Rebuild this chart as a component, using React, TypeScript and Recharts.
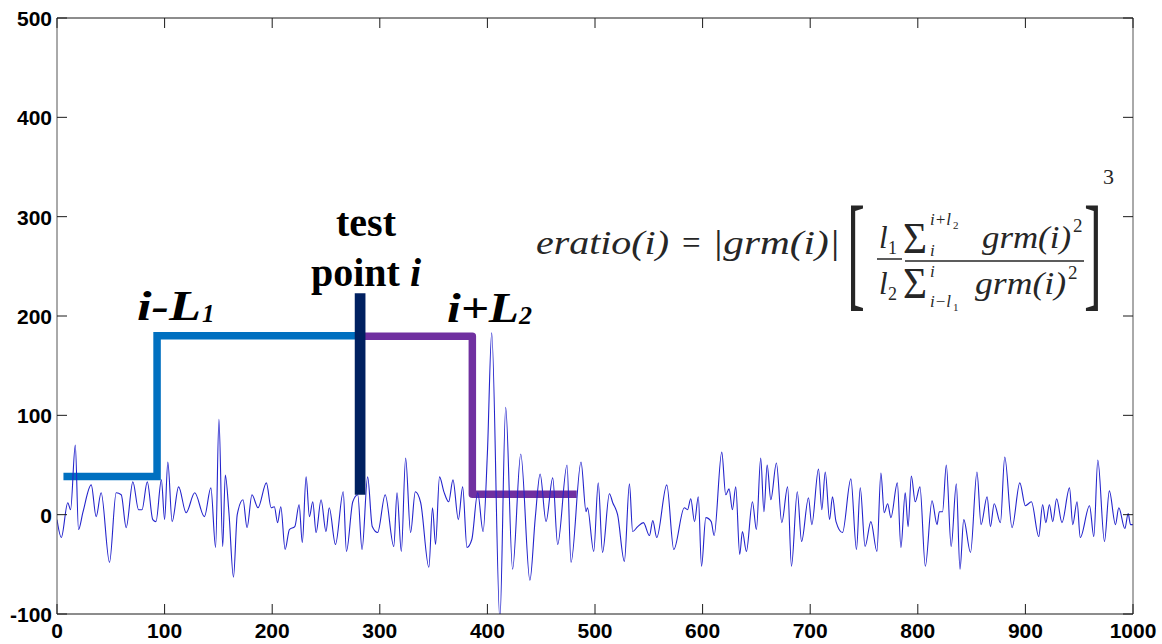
import { ComposedChart, Line, XAxis, YAxis, Customized } from "recharts";

// signal, peak by peak
const signalA: [number, number][] = [
    [0, -5], [4, -23], [10, 12], [12.6, 5], [17, 70], [20, -15], [24, 2], [31.8, 30], [36.4, -2], [41, 22],
    [48.8, -48], [55, 22], [59.7, 20], [64.3, -13], [70.5, 33], [75.8, 5], [79, 5], [83.9, 33], [89, -5], [92, -7],
    [97, 35], [100, -5], [103, 53], [107, -7], [113, 28], [120, 2], [128, 22], [137, -2], [143, 27], [147.4, -33],
    [150.5, 96], [154, -32], [156.4, 40], [159.8, 2], [164, -63], [167.5, 0], [172.9, 15], [176.6, -13], [181.2, 20],
    [186.8, 7], [194.6, 32], [199, 7]
];
const signalB: [number, number][] = [
    [202, 8], [205, -8], [208, 8], [212, -35], [216, -15], [221, -12], [225, 10], [228, -28], [231.5, 38], [234.6, -2],
    [237.7, 13], [240.8, -18], [245.4, 15], [250, -17], [253, 7], [258.8, -30], [266, 23], [269, -37], [274.9, 13],
    [279.5, 20], [283.5, -35], [288.7, 38], [293, -12], [298, -18], [305, 20], [313, -32], [316, 22], [320, -37],
    [324, 57], [328.6, -18], [333, 23], [338, 12], [345.6, -53], [349, 7], [351.8, -30], [355.5, 38], [359.6, 23],
    [364, 13], [368, 35], [373, -5], [377, 28], [381, -33], [385.5, -25], [391, 22], [396, -17], [400, 62], [404, 183]
];
const signalC: [number, number][] = [
    [411.6, -106], [417, 108], [423.4, -55], [431, 61], [439.5, -66], [444.5, -3], [449, 41], [454.5, -7], [460.7, 37],
    [465.3, -30], [474, 50], [477.7, -48], [487, 53], [491.7, 3], [493, 7], [498.8, -37], [503, 32], [507, -38],
    [513.4, 21], [516.5, 12], [521, 0], [527.3, -47], [532, 31], [535, -17], [539.7, -12], [545, -8], [550.6, -21],
    [553.7, -6], [557.4, -23], [566.7, 30], [573.2, -35], [583, 7], [586, 5], [589, 16], [592.5, -7], [596, 18],
    [599, -52], [603, -3]
];
const signalD: [number, number][] = [
    [608, -7], [610.7, -21], [617.8, 63], [621.5, 20], [624.6, 26], [627.7, 5], [630.8, 28], [634.5, -40], [637, -17],
    [640.7, -37], [646.3, 13], [650, -15], [654, 57], [657, 3], [660, 50], [663.4, 15], [668.6, 52], [673.6, -8],
    [679, 28], [682.6, -52], [688, 23], [692, -27], [698.4, 17], [701.5, -10], [707.7, 46], [710.8, 5], [714, 43],
    [718, -5], [720.7, 18], [724, -7], [730, -18], [737.8, 36], [743, -35], [746.5, 27], [751, -32], [756.4, -7],
    [762, -37], [765.7, 42], [768.8, 2], [772, 11], [775, -3], [781, 32], [784.3, -33], [788.3, 22], [791, -12],
    [794, 39], [797.6, 13], [802, 28]
];
const signalE: [number, number][] = [
    [807, -52], [813.2, 14], [817.9, -10], [820, 3], [823, 3], [826.5, 50], [831, -32], [835.8, 31], [839.2, -55],
    [842.7, -5], [849, -38], [855, 43], [858.8, -10], [864.4, 18], [867.5, -12], [871, 11], [876.8, -8], [880.8, 58],
    [887.6, -13], [894.8, 32], [900, 9], [905.6, 13], [912.4, -22], [916, 10], [919, -8], [922.3, 10], [925.4, -7],
    [929, 16], [934, -8], [941, 27], [944, -10], [948, 13], [951, -23], [959.6, 9], [963.6, -22], [967.3, 55],
    [973.5, -27], [978, 24], [983.7, -10], [986.8, 7], [992.4, -14], [995.5, 1], [997.7, -10], [1000, -10]
];

// window markers
const leftWindow: [number, number][] = [[6, 38.5], [93, 38.5], [93, 180], [282, 180]];
const rightWindow: [number, number][] = [[282, 179.5], [386, 179.5], [386, 20.5], [483, 20.5]];
const testPoint: [number, number][] = [[281.7, 20], [281.7, 223]];

const xTicks = [0, 100, 200, 300, 400, 500, 600, 700, 800, 900, 1000];
const yTicks = [-100, 0, 100, 200, 300, 400, 500];

const toPts = (arr: [number, number][]) => arr.map(([x, y]) => ({ x, y }));
const signal = toPts([...signalA, ...signalB, ...signalC, ...signalD, ...signalE]);

const AXIS = "#1a1a1a";
const tickFont = { fontFamily: "Liberation Sans, Arial, sans-serif", fontWeight: 700, fontSize: 21, fill: "#000" };

const BottomTick = (p: any) => (
    <g>
        <line x1={p.x} x2={p.x} y1={p.y} y2={p.y - 10} stroke={AXIS} />
        <text x={p.x} y={p.y + 24} textAnchor="middle" {...tickFont}>{p.payload.value}</text>
    </g>
);
const TopTick = (p: any) => <line x1={p.x} x2={p.x} y1={p.y} y2={p.y + 10} stroke={AXIS} />;
const LeftTick = (p: any) => (
    <g>
        <line x1={p.x} x2={p.x + 10} y1={p.y} y2={p.y} stroke={AXIS} />
        <text x={p.x - 5} y={p.y + 8} textAnchor="end" {...tickFont}>{p.payload.value}</text>
    </g>
);
const RightTick = (p: any) => <line x1={p.x} x2={p.x - 10} y1={p.y} y2={p.y} stroke={AXIS} />;

const serif = "Liberation Serif, Times New Roman, serif";
const INK = "#262626";

function Annotations() {
    return (
        <g>
            {/* window labels */}
            <text x={137} y={320} fontFamily={serif} fontWeight={700} fontStyle="italic" fontSize={42} textLength={64} lengthAdjust="spacingAndGlyphs">i-L</text>
            <text x={202} y={322} fontFamily={serif} fontWeight={700} fontStyle="italic" fontSize={25}>1</text>
            <text x={366} y={236} fontFamily={serif} fontWeight={700} fontSize={40} textAnchor="middle">test</text>
            <text x={366} y={286} fontFamily={serif} fontWeight={700} fontSize={40} textAnchor="middle">
                point <tspan fontStyle="italic">i</tspan>
            </text>
            <text x={447} y={322} fontFamily={serif} fontWeight={700} fontStyle="italic" fontSize={42} textLength={72} lengthAdjust="spacingAndGlyphs">i+L</text>
            <text x={519} y={324} fontFamily={serif} fontWeight={700} fontStyle="italic" fontSize={26}>2</text>

            {/* formula */}
            <g fill={INK} fontFamily={serif} fontStyle="italic">
                <text x={536} y={254} fontSize={33} textLength={133} lengthAdjust="spacingAndGlyphs">eratio(i)</text>
                <text x={682} y={254} fontSize={33} fontStyle="normal">=</text>
                <text x={712} y={254} fontSize={33} textLength={128} lengthAdjust="spacingAndGlyphs">|grm(i)|</text>
                <text transform="translate(847,294) scale(0.42,1)" fontSize={128} fontStyle="normal">[</text>
                <text transform="translate(1084,294) scale(0.42,1)" fontSize={128} fontStyle="normal">]</text>
                <text x={1103} y={184} fontSize={22} fontStyle="normal">3</text>

                <text x={879} y={248} fontSize={31}>l</text>
                <text x={888} y={254} fontSize={18} fontStyle="normal">1</text>
                <line x1={877} x2={902} y1={259} y2={259} stroke={INK} strokeWidth={1.5} />
                <text x={879} y={294} fontSize={31}>l</text>
                <text x={888} y={300} fontSize={18} fontStyle="normal">2</text>

                <text x={903} y={253} fontSize={44} fontStyle="normal" textLength={24} lengthAdjust="spacingAndGlyphs">Σ</text>
                <text x={930} y={225} fontSize={17}>i+l</text>
                <text x={953} y={229} fontSize={11} fontStyle="normal">2</text>
                <text x={930} y={256} fontSize={17}>i</text>
                <text x={982} y={248} fontSize={32} textLength={89} lengthAdjust="spacingAndGlyphs">grm(i)</text>
                <text x={1073} y={232} fontSize={19} fontStyle="normal">2</text>
                <line x1={905} x2={1084} y1={261} y2={261} stroke={INK} strokeWidth={1.5} />

                <text x={903} y={298} fontSize={44} fontStyle="normal" textLength={24} lengthAdjust="spacingAndGlyphs">Σ</text>
                <text x={930} y={277} fontSize={17}>i</text>
                <text x={930} y={307} fontSize={17}>i−l</text>
                <text x={953} y={311} fontSize={11} fontStyle="normal">1</text>
                <text x={975} y={294} fontSize={32} textLength={91} lengthAdjust="spacingAndGlyphs">grm(i)</text>
                <text x={1068} y={279} fontSize={19} fontStyle="normal">2</text>
            </g>
        </g>
    );
}

export default function App() {
    return (
        <div style={{ position: "absolute", left: 0, top: 0, width: 1162, height: 644, background: "#fff" }}>
            <ComposedChart width={1162} height={644} margin={{ top: 17, right: 28, bottom: 0, left: 0 }}>
                <XAxis
                    xAxisId="b"
                    type="number"
                    dataKey="x"
                    domain={[0, 1000]}
                    ticks={xTicks}
                    height={30}
                    tickSize={0}
                    tickMargin={0}
                    tickLine={false}
                    axisLine={{ stroke: AXIS }}
                    tick={BottomTick}
                    allowDataOverflow
                />
                <XAxis
                    xAxisId="t"
                    orientation="top"
                    type="number"
                    dataKey="x"
                    domain={[0, 1000]}
                    ticks={xTicks}
                    height={1}
                    tickSize={0}
                    tickMargin={0}
                    tickLine={false}
                    axisLine={{ stroke: AXIS }}
                    tick={TopTick}
                    allowDataOverflow
                />
                <YAxis
                    yAxisId="l"
                    type="number"
                    domain={[-100, 500]}
                    ticks={yTicks}
                    width={57}
                    tickSize={0}
                    tickMargin={0}
                    tickLine={false}
                    axisLine={{ stroke: "#555" }}
                    tick={LeftTick}
                    allowDataOverflow
                />
                <YAxis
                    yAxisId="r"
                    orientation="right"
                    type="number"
                    domain={[-100, 500]}
                    ticks={yTicks}
                    width={1}
                    tickSize={0}
                    tickMargin={0}
                    tickLine={false}
                    axisLine={{ stroke: "#555" }}
                    tick={RightTick}
                    allowDataOverflow
                />
                <Line
                    xAxisId="b"
                    yAxisId="l"
                    data={toPts(leftWindow)}
                    dataKey="y"
                    type="linear"
                    stroke="#0070C0"
                    strokeWidth={7.5}
                    strokeLinejoin="miter"
                    dot={false}
                    activeDot={false}
                    isAnimationActive={false}
                />
                <Line
                    xAxisId="b"
                    yAxisId="l"
                    data={toPts(rightWindow)}
                    dataKey="y"
                    type="linear"
                    stroke="#7030A0"
                    strokeWidth={7.5}
                    strokeLinejoin="round"
                    dot={false}
                    activeDot={false}
                    isAnimationActive={false}
                />
                <Line
                    xAxisId="b"
                    yAxisId="l"
                    data={signal}
                    dataKey="y"
                    type="monotone"
                    stroke="#2424cc"
                    strokeWidth={1.1}
                    dot={false}
                    activeDot={false}
                    isAnimationActive={false}
                />
                <Line
                    xAxisId="b"
                    yAxisId="l"
                    data={toPts(testPoint)}
                    dataKey="y"
                    type="linear"
                    stroke="#002060"
                    strokeWidth={10.7}
                    strokeLinecap="butt"
                    dot={false}
                    activeDot={false}
                    isAnimationActive={false}
                />
                <Customized component={Annotations} />
            </ComposedChart>
        </div>
    );
}
